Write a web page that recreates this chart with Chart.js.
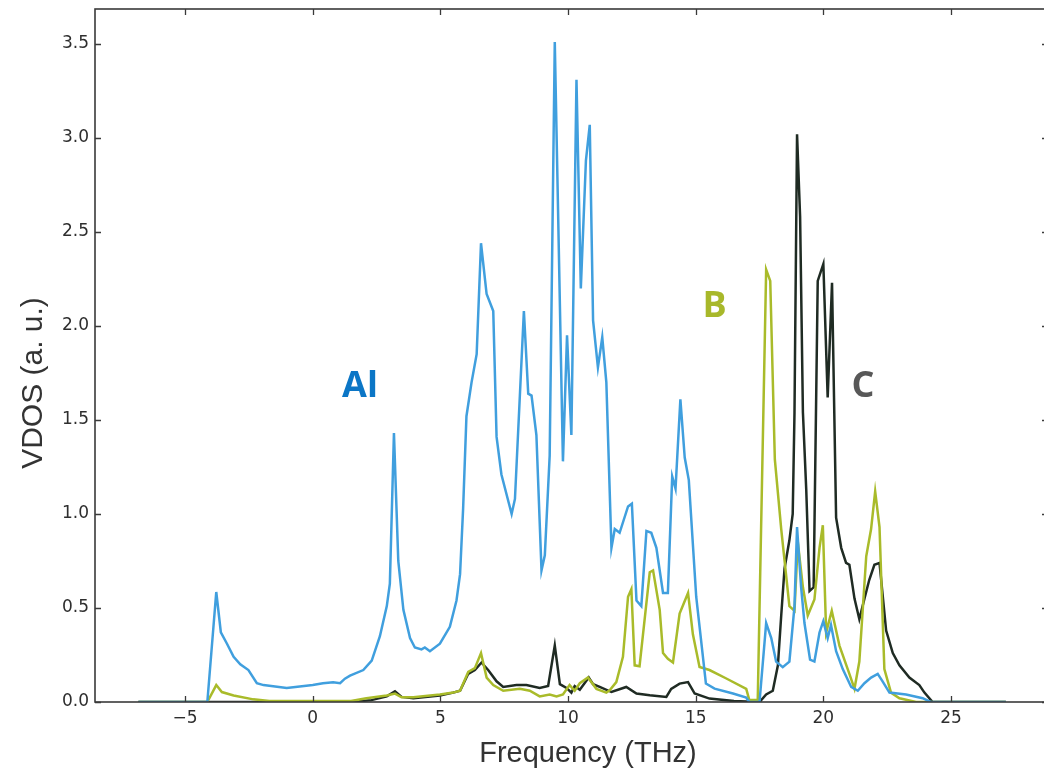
<!DOCTYPE html>
<html>
<head>
<meta charset="utf-8">
<script src="https://cdn.jsdelivr.net/npm/chart.js@4.4.1/dist/chart.umd.min.js"></script>
<style>
  html, body { margin: 0; padding: 0; background: #ffffff; overflow: hidden; }
</style>
</head>
<body>
<canvas id="c" width="1060" height="772"></canvas>
<script>
// ---------- data ----------
const alFreq = [-6.83, -4.13, -3.78, -3.60, -3.36, -3.10, -2.84, -2.52, -2.19, -1.93, -1.02, 0.0, 0.4, 0.8, 1.07, 1.26, 1.46, 1.98, 2.31, 2.63, 2.9, 3.02, 3.18, 3.35, 3.55, 3.81, 4.0, 4.26, 4.39, 4.59, 4.98, 5.37, 5.63, 5.77, 5.89, 6.02, 6.22, 6.42, 6.59, 6.81, 7.07, 7.2, 7.39, 7.79, 7.92, 8.27, 8.44, 8.57, 8.76, 8.96, 9.09, 9.28, 9.48, 9.8, 9.96, 10.13, 10.33, 10.5, 10.7, 10.85, 10.98, 11.17, 11.34, 11.5, 11.7, 11.83, 12.02, 12.35, 12.5, 12.68, 12.87, 13.07, 13.26, 13.46, 13.72, 13.91, 14.08, 14.21, 14.4, 14.57, 14.73, 15.02, 15.4, 15.74, 16.46, 16.98, 17.1, 17.5, 17.76, 17.96, 18.15, 18.41, 18.67, 18.87, 18.97, 19.13, 19.26, 19.48, 19.65, 19.85, 20.0, 20.17, 20.3, 20.5, 20.76, 21.09, 21.35, 21.61, 21.87, 22.13, 22.32, 22.59, 23.24, 23.89, 24.2, 27.15];
const alVdos = [0, 0, 0.585, 0.37, 0.31, 0.24, 0.20, 0.17, 0.10, 0.09, 0.075, 0.09, 0.10, 0.105, 0.10, 0.124, 0.14, 0.17, 0.22, 0.35, 0.51, 0.63, 1.43, 0.75, 0.49, 0.34, 0.29, 0.28, 0.29, 0.27, 0.31, 0.40, 0.54, 0.68, 1.03, 1.52, 1.70, 1.85, 2.44, 2.17, 2.08, 1.41, 1.21, 1.00, 1.08, 2.08, 1.64, 1.63, 1.42, 0.70, 0.78, 1.31, 3.51, 1.28, 1.95, 1.42, 3.31, 2.2, 2.88, 3.07, 2.03, 1.78, 1.94, 1.70, 0.82, 0.92, 0.90, 1.04, 1.055, 0.54, 0.51, 0.91, 0.90, 0.82, 0.58, 0.58, 1.20, 1.135, 1.61, 1.30, 1.18, 0.56, 0.098, 0.071, 0.045, 0.023, 0, 0, 0.42, 0.34, 0.215, 0.185, 0.215, 0.51, 0.93, 0.61, 0.42, 0.225, 0.215, 0.37, 0.43, 0.34, 0.41, 0.27, 0.175, 0.08, 0.06, 0.10, 0.13, 0.15, 0.11, 0.05, 0.04, 0.02, 0, 0];

const bFreq = [-6.83, -4.13, -3.78, -3.56, -3.1, -2.33, -1.7, 1.5, 2.1, 2.9, 3.22, 3.48, 3.94, 4.98, 5.5, 5.77, 6.09, 6.35, 6.59, 6.81, 7.07, 7.46, 8.11, 8.5, 8.89, 9.28, 9.55, 9.8, 10.06, 10.26, 10.46, 10.78, 11.11, 11.5, 11.63, 11.89, 12.15, 12.35, 12.48, 12.61, 12.8, 13.2, 13.33, 13.59, 13.72, 13.91, 14.11, 14.37, 14.7, 14.89, 15.15, 15.54, 16.2, 16.98, 17.1, 17.43, 17.76, 17.92, 18.1, 18.35, 18.67, 18.87, 19.0, 19.2, 19.39, 19.65, 19.85, 19.98, 20.11, 20.33, 20.63, 21.02, 21.22, 21.41, 21.68, 21.87, 22.03, 22.2, 22.39, 22.65, 22.98, 23.63, 27.15];
const bVdos = [0, 0, 0.09, 0.053, 0.035, 0.014, 0.005, 0.005, 0.02, 0.035, 0.045, 0.025, 0.025, 0.04, 0.05, 0.06, 0.16, 0.18, 0.26, 0.13, 0.09, 0.06, 0.07, 0.06, 0.03, 0.04, 0.03, 0.04, 0.09, 0.06, 0.10, 0.13, 0.07, 0.05, 0.062, 0.106, 0.24, 0.56, 0.60, 0.195, 0.19, 0.69, 0.70, 0.49, 0.26, 0.23, 0.21, 0.47, 0.58, 0.36, 0.186, 0.17, 0.125, 0.07, 0.01, 0.01, 2.30, 2.24, 1.29, 0.92, 0.51, 0.485, 0.85, 0.61, 0.46, 0.545, 0.82, 0.94, 0.37, 0.485, 0.30, 0.15, 0.07, 0.215, 0.775, 0.92, 1.12, 0.93, 0.175, 0.05, 0.02, 0, 0];

const cFreq = [-6.83, 1.5, 2.3, 2.9, 3.22, 3.48, 3.94, 4.98, 5.5, 5.77, 6.09, 6.35, 6.61, 6.87, 7.2, 7.46, 7.98, 8.37, 8.89, 9.22, 9.48, 9.68, 9.94, 10.13, 10.26, 10.46, 10.81, 10.98, 11.24, 11.7, 12.28, 12.68, 13.2, 13.85, 14.04, 14.37, 14.7, 14.96, 15.54, 16.5, 17.5, 17.76, 18.02, 18.22, 18.35, 18.48, 18.67, 18.8, 18.87, 18.97, 19.09, 19.2, 19.33, 19.46, 19.62, 19.78, 20.0, 20.17, 20.34, 20.5, 20.7, 20.89, 21.02, 21.22, 21.41, 21.61, 21.8, 22.0, 22.2, 22.46, 22.72, 22.98, 23.37, 23.76, 23.96, 24.28, 27.15];
const cVdos = [0, 0, 0.01, 0.03, 0.057, 0.027, 0.02, 0.035, 0.05, 0.06, 0.15, 0.17, 0.21, 0.17, 0.11, 0.08, 0.09, 0.09, 0.075, 0.085, 0.30, 0.095, 0.075, 0.05, 0.085, 0.065, 0.13, 0.095, 0.08, 0.053, 0.08, 0.045, 0.036, 0.027, 0.07, 0.098, 0.106, 0.045, 0.018, 0.005, 0, 0.04, 0.06, 0.195, 0.46, 0.71, 0.86, 1.0, 1.54, 3.02, 2.58, 1.54, 1.13, 0.59, 0.61, 2.24, 2.33, 1.62, 2.23, 0.98, 0.82, 0.74, 0.73, 0.55, 0.44, 0.55, 0.65, 0.73, 0.74, 0.38, 0.26, 0.195, 0.13, 0.09, 0.05, 0, 0];

const seriesNames = ['Al', 'B', 'C'];
const xTickValues = [-5, 0, 5, 10, 15, 20, 25];
const yTickValues = [0, 0.5, 1.0, 1.5, 2.0, 2.5, 3.0, 3.5];
const xTitle = 'Frequency (THz)';
const yTitle = 'VDOS (a. u.)';

// ---------- chart ----------
const toPts = (xs, ys) => xs.map((v, i) => ({ x: v, y: ys[i] }));

const labelStyle = [
  { x: 1.15, y: 1.62, color: '#0b76c6' },
  { x: 15.27, y: 2.05, color: '#a8b82a' },
  { x: 21.1, y: 1.62, color: '#585858' }
];

const framePlugin = {
  id: 'frame',
  afterDraw(chart) {
    const { ctx, chartArea: a, scales } = chart;
    const sx = scales.x, sy = scales.y;
    ctx.save();
    // spines
    ctx.strokeStyle = '#3a3a3a';
    ctx.lineWidth = 1.6;
    ctx.strokeRect(a.left, a.top, a.right - a.left, a.bottom - a.top);
    // inward ticks
    ctx.lineWidth = 1.3;
    ctx.beginPath();
    const L = 6;
    sx.ticks.forEach(t => {
      const p = Math.round(sx.getPixelForValue(t.value)) + 0.5;
      ctx.moveTo(p, a.bottom); ctx.lineTo(p, a.bottom - L);
      ctx.moveTo(p, a.top); ctx.lineTo(p, a.top + L);
    });
    sy.ticks.forEach(t => {
      const p = Math.round(sy.getPixelForValue(t.value)) + 0.5;
      ctx.moveTo(a.left, p); ctx.lineTo(a.left + L, p);
      ctx.moveTo(a.right, p); ctx.lineTo(a.right - L, p);
    });
    ctx.stroke();
    // axis titles
    ctx.fillStyle = '#333333';
    ctx.font = '29px "Liberation Sans", Arial, sans-serif';
    ctx.textAlign = 'center';
    ctx.textBaseline = 'alphabetic';
    ctx.fillText(xTitle, 588, 762);
    ctx.translate(42, 383);
    ctx.rotate(-Math.PI / 2);
    ctx.font = '30px "Liberation Sans", Arial, sans-serif';
    ctx.fillText(yTitle, 0, 0);
    ctx.restore();
    // element labels
    ctx.save();
    ctx.font = 'bold 36px "Open Sans", "DejaVu Sans", sans-serif';
    ctx.textAlign = 'left';
    ctx.textBaseline = 'alphabetic';
    seriesNames.forEach((name, i) => {
      const s = labelStyle[i];
      ctx.fillStyle = s.color;
      ctx.fillText(name, sx.getPixelForValue(s.x), sy.getPixelForValue(s.y));
    });
    ctx.restore();
  }
};

new Chart(document.getElementById('c'), {
  type: 'line',
  data: {
    datasets: [
      { label: seriesNames[0], data: toPts(alFreq, alVdos), borderColor: '#409fde', borderWidth: 2.5, pointRadius: 0, tension: 0, fill: false },
      { label: seriesNames[1], data: toPts(bFreq, bVdos), borderColor: '#a9bb2a', borderWidth: 2.5, pointRadius: 0, tension: 0, fill: false },
      { label: seriesNames[2], data: toPts(cFreq, cVdos), borderColor: '#1f2b23', borderWidth: 2.5, pointRadius: 0, tension: 0, fill: false }
    ]
  },
  options: {
    responsive: false,
    animation: false,
    devicePixelRatio: 1,
    layout: { padding: { top: 9, right: 12, left: 0, bottom: 0 } },
    plugins: { legend: { display: false }, tooltip: { enabled: false }, title: { display: false } },
    scales: {
      x: {
        type: 'linear',
        min: -8.53,
        max: 28.8,
        afterBuildTicks: s => { s.ticks = xTickValues.map(v => ({ value: v })); },
        afterFit: s => { s.height = 70; s.paddingLeft = 0; s.paddingRight = 0; },
        grid: { display: false, drawTicks: false },
        border: { display: false },
        ticks: {
          padding: 6,
          autoSkip: false,
          maxRotation: 0,
          color: '#2e2e2e',
          font: { family: '"DejaVu Sans", sans-serif', size: 17 },
          callback: v => (v < 0 ? '\u2212' + Math.abs(v) : String(v))
        }
      },
      y: {
        type: 'linear',
        min: 0,
        max: 3.686,
        afterBuildTicks: s => { s.ticks = yTickValues.map(v => ({ value: v })); },
        afterFit: s => { s.width = 95; s.paddingTop = 0; s.paddingBottom = 0; },
        grid: { display: false, drawTicks: false },
        border: { display: false },
        ticks: {
          padding: 6,
          color: '#2e2e2e',
          font: { family: '"DejaVu Sans", sans-serif', size: 17 },
          callback: v => Number(v).toFixed(1)
        }
      }
    }
  },
  plugins: [framePlugin]
});
</script>
</body>
</html>
